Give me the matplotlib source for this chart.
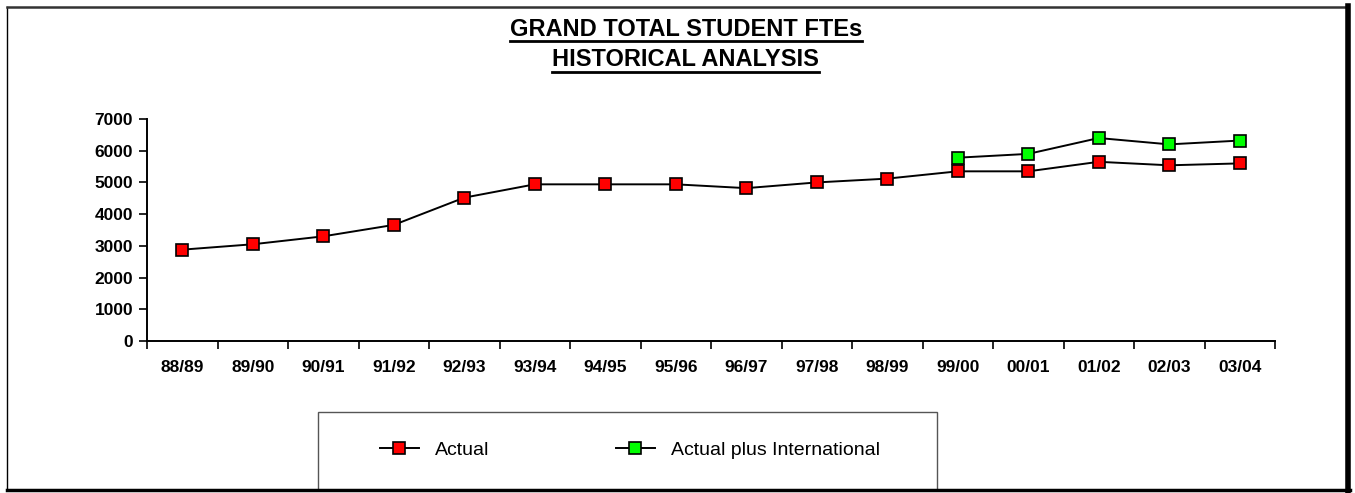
import numpy as np
import matplotlib.pyplot as plt
from matplotlib.lines import Line2D
from matplotlib.patches import Rectangle

plt.rcParams["font.family"] = ["Liberation Sans", "DejaVu Sans"]

years = ["88/89", "89/90", "90/91", "91/92", "92/93", "93/94", "94/95", "95/96",
         "96/97", "97/98", "98/99", "99/00", "00/01", "01/02", "02/03", "03/04"]
actual = [2880, 3050, 3300, 3660, 4520, 4940, 4940, 4940,
          4820, 5000, 5120, 5350, 5350, 5650, 5540, 5600]
actual_intl = [np.nan] * 11 + [5780, 5900, 6400, 6200, 6320]

W, H = 1355, 493
fig = plt.figure(figsize=(W / 100, H / 100), dpi=100)

ax = fig.add_axes([147 / W, (H - 341) / H, (1275 - 147) / W, (341 - 119) / H])
x = np.arange(len(years))
marker_style = dict(marker="s", markersize=8, markeredgecolor="black",
                    markeredgewidth=1.2, color="black", linewidth=1.4)
ax.plot(x, actual, markerfacecolor="#ff0000", label="Actual",
        clip_on=False, **marker_style)
ax.plot(x, actual_intl, markerfacecolor="#00ff00",
        label="Actual plus International", clip_on=False, **marker_style)

ax.set_xlim(-0.5, len(years) - 0.5)
ax.set_ylim(0, 7000)
ax.set_yticks(range(0, 7001, 1000))
ax.set_xticks(np.arange(-0.5, len(years), 1.0))
ax.set_xticklabels([])
ax.set_xticks(x, minor=True)
ax.set_xticklabels(years, minor=True)
ax.tick_params(axis="x", which="major", direction="out", length=6, width=1.2)
ax.tick_params(axis="x", which="minor", length=0, pad=14)
ax.tick_params(axis="y", direction="out", length=6, width=1.2, pad=4)
for label in ax.get_xticklabels(minor=True) + ax.get_yticklabels():
    label.set_fontweight("bold")
    label.set_fontsize(12.5)
for side in ("top", "right"):
    ax.spines[side].set_visible(False)
for side in ("left", "bottom"):
    ax.spines[side].set_linewidth(1.4)

# titles with underline
titles = [("GRAND TOTAL STUDENT FTEs", 29), ("HISTORICAL ANALYSIS", 60)]
fig.canvas.draw()
renderer = fig.canvas.get_renderer()
for text, ypix in titles:
    t = fig.text(0.506, 1 - ypix / H, text, ha="center", va="center",
                 fontsize=17, fontweight="bold")
    bb = t.get_window_extent(renderer=renderer).transformed(fig.transFigure.inverted())
    fig.add_artist(Line2D([bb.x0, bb.x1], [bb.y0 - 0.002, bb.y0 - 0.002],
                          transform=fig.transFigure, color="black", linewidth=2.0))

# legend box
fig.add_artist(Rectangle((318 / W, (H - 490) / H), (937 - 318) / W, (490 - 412) / H,
                         transform=fig.transFigure, fill=False,
                         edgecolor="#555555", linewidth=1.0))
handles, labels = ax.get_legend_handles_labels()
fig.legend(handles, labels, loc="center", bbox_to_anchor=(630 / W, 1 - 450 / H),
           ncol=2, frameon=False, fontsize=14, handlelength=2.0,
           columnspacing=6.5, handletextpad=0.85, markerscale=1.0)

# outer border with shadow
fig.add_artist(Line2D([7 / W, 7 / W], [1 - 7 / H, 1 - 489 / H],
                      transform=fig.transFigure, color="black", linewidth=1.0))
fig.add_artist(Line2D([7 / W, 1347 / W], [1 - 7 / H, 1 - 7 / H],
                      transform=fig.transFigure, color="#333333", linewidth=1.8))
fig.add_artist(Line2D([1348 / W, 1348 / W], [1 - 6 / H, 1 - 491 / H],
                      transform=fig.transFigure, color="black", linewidth=4.0))
fig.add_artist(Line2D([7 / W, 1350 / W], [1 - 490 / H, 1 - 490 / H],
                      transform=fig.transFigure, color="black", linewidth=2.5))

fig.savefig("out.png", dpi=100)
